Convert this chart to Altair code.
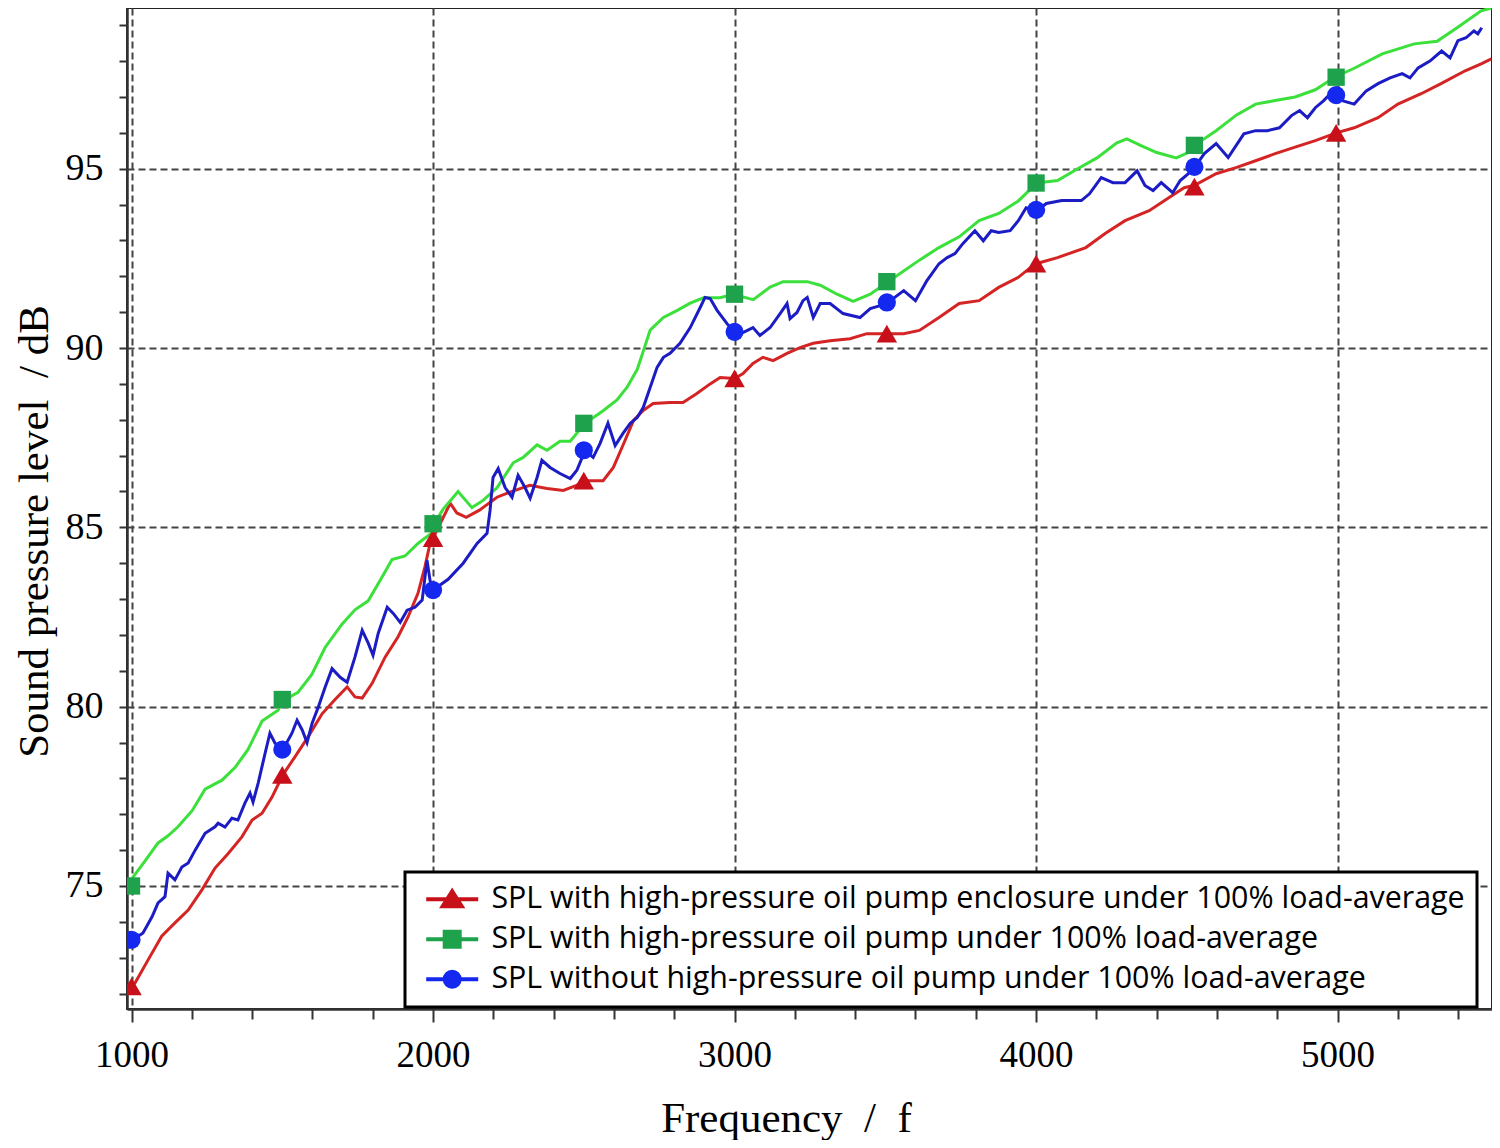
import altair as alt
import pandas as pd

S_RED = "SPL with high-pressure oil pump enclosure under 100% load-average"
S_GREEN = "SPL with high-pressure oil pump under 100% load-average"
S_BLUE = "SPL without high-pressure oil pump under 100% load-average"
series_names = [S_RED, S_GREEN, S_BLUE]
line_keys = ["red", "green", "blue"]

green_f = [1000, 1005, 1045, 1088, 1121, 1154, 1201, 1244, 1300, 1343, 1386, 1433, 1486, 1500,
           1552, 1598, 1642, 1698, 1741, 1785, 1830, 1864, 1907, 1950, 1997, 2000, 2033, 2083,
           2129, 2166, 2212, 2266, 2299, 2345, 2378, 2421, 2455, 2504, 2564, 2610, 2643, 2677,
           2697, 2720, 2764, 2810, 2853, 2897, 2952, 2995, 3062, 3118, 3161, 3241, 3284, 3340,
           3393, 3450, 3509, 3613, 3678, 3745, 3811, 3876, 3941, 4003, 4071, 4138, 4202, 4268,
           4301, 4348, 4400, 4465, 4518, 4525, 4597, 4665, 4728, 4793, 4859, 4926, 4990, 5055,
           5148, 5254, 5330, 5396, 5476, 5510]
green_v = [75.0, 75.25, 75.7, 76.2, 76.4, 76.65, 77.1, 77.7, 77.95, 78.3, 78.8, 79.6, 79.9, 80.15,
           80.4, 80.9, 81.65, 82.3, 82.7, 82.95, 83.6, 84.1, 84.2, 84.55, 84.85, 85.05, 85.5, 86.0,
           85.55, 85.75, 86.1, 86.8, 86.95, 87.3, 87.15, 87.4, 87.4, 87.9, 88.25, 88.55, 88.9, 89.4,
           89.9, 90.5, 90.85, 91.05, 91.25, 91.4, 91.4, 91.5, 91.35, 91.7, 91.85, 91.85, 91.75, 91.5,
           91.3, 91.5, 91.85, 92.45, 92.8, 93.1, 93.55, 93.75, 94.1, 94.6, 94.67, 95.0, 95.3, 95.72,
           95.83, 95.64, 95.45, 95.3, 95.5, 95.65, 96.06, 96.5, 96.8, 96.9, 97.0, 97.2, 97.55, 97.8,
           98.2, 98.48, 98.55, 98.93, 99.4, 99.48]

red_f = [1000, 1012, 1055, 1100, 1144, 1188, 1234, 1277, 1320, 1366, 1400, 1433, 1466, 1502,
         1542, 1585, 1632, 1675, 1715, 1741, 1765, 1798, 1841, 1884, 1917, 1950, 1973, 1990, 2000,
         2057, 2079, 2110, 2154, 2212, 2255, 2321, 2378, 2432, 2476, 2504, 2564, 2598, 2632, 2665,
         2697, 2730, 2786, 2829, 2875, 2919, 2952, 3001, 3028, 3061, 3094, 3128, 3174, 3217, 3261,
         3317, 3383, 3439, 3506, 3561, 3613, 3678, 3745, 3811, 3876, 3941, 3981, 4000, 4071, 4165,
         4229, 4295, 4375, 4440, 4491, 4524, 4597, 4663, 4728, 4793, 4859, 4926, 4996, 5055, 5134,
         5200, 5277, 5343, 5423, 5476, 5510]
red_v = [72.2, 72.3, 72.94, 73.6, 73.97, 74.33, 74.9, 75.5, 75.9, 76.37, 76.84, 77.03, 77.48, 78.1,
         78.6, 79.15, 79.8, 80.2, 80.55, 80.27, 80.24, 80.65, 81.38, 81.95, 82.5, 83.16, 83.9, 84.55, 84.7,
         85.67, 85.4, 85.28, 85.48, 85.84, 85.98, 86.17, 86.08, 86.03, 86.17, 86.3, 86.3, 86.67, 87.33, 87.98,
         88.26, 88.45, 88.48, 88.48, 88.73, 89.0, 89.18, 89.15, 89.29, 89.57, 89.74, 89.65, 89.85, 90.01, 90.13,
         90.2, 90.26, 90.4, 90.4, 90.4, 90.49, 90.85, 91.24, 91.32, 91.69, 91.97, 92.24, 92.35, 92.52, 92.8,
         93.19, 93.55, 93.83, 94.19, 94.47, 94.53, 94.86, 95.03, 95.22, 95.42, 95.6, 95.78, 96.0, 96.14, 96.42,
         96.8, 97.09, 97.37, 97.73, 97.92, 98.06]

blue_f = [1000, 1005, 1038, 1068, 1088, 1111, 1121, 1144, 1167, 1188, 1211, 1244, 1277, 1287, 1310,
          1333, 1353, 1376, 1393, 1403, 1420, 1443, 1459, 1476, 1502, 1532, 1549, 1566, 1582, 1599,
          1619, 1642, 1665, 1692, 1715, 1741, 1765, 1785, 1801, 1818, 1848, 1868, 1891, 1914, 1940,
          1964, 1980, 1990, 2000, 2050, 2100, 2146, 2179, 2189, 2199, 2216, 2239, 2262, 2282, 2305,
          2322, 2345, 2361, 2388, 2421, 2455, 2477, 2504, 2531, 2554, 2580, 2604, 2630, 2654, 2677,
          2697, 2720, 2743, 2764, 2786, 2819, 2853, 2886, 2902, 2919, 2942, 2975, 3001, 3028, 3061,
          3084, 3118, 3151, 3174, 3184, 3207, 3227, 3241, 3261, 3284, 3317, 3360, 3416, 3450, 3483,
          3509, 3561, 3600, 3638, 3678, 3705, 3731, 3757, 3797, 3825, 3851, 3876, 3914, 3941, 3967,
          4003, 4034, 4085, 4150, 4177, 4216, 4255, 4295, 4335, 4361, 4388, 4415, 4453, 4478, 4505,
          4525, 4558, 4597, 4637, 4689, 4728, 4767, 4807, 4847, 4874, 4900, 4926, 4953, 4979, 4993,
          5018, 5055, 5095, 5134, 5174, 5214, 5240, 5267, 5306, 5345, 5373, 5399, 5426, 5452, 5465, 5478]
blue_v = [73.5, 73.5, 73.69, 74.14, 74.53, 74.7, 75.36, 75.17, 75.53, 75.64, 76.0, 76.47, 76.65, 76.75, 76.64,
          76.89, 76.84, 77.31, 77.59, 77.34, 77.87, 78.7, 79.26, 78.98, 78.8, 79.26, 79.62, 79.35, 79.0, 79.54,
          79.98, 80.54, 81.06, 80.82, 80.68, 81.38, 82.13, 81.77, 81.43, 82.04, 82.77, 82.6, 82.35, 82.69, 82.77,
          82.97, 84.08, 83.52, 83.25, 83.55, 84.0, 84.55, 84.83, 85.47, 86.39, 86.64, 86.11, 85.84, 86.45, 86.11,
          85.81, 86.39, 86.87, 86.67, 86.5, 86.36, 86.59, 87.14, 86.95, 87.34, 87.9, 87.28, 87.62, 87.9, 88.06,
          88.34, 88.9, 89.46, 89.74, 89.85, 90.13, 90.57, 91.13, 91.41, 91.38, 91.05, 90.68, 90.43, 90.43, 90.57,
          90.35, 90.57, 90.96, 91.24, 90.82, 90.99, 91.32, 91.41, 90.85, 91.24, 91.24, 90.96, 90.85, 91.1, 91.18,
          91.27, 91.6, 91.32, 91.88, 92.35, 92.52, 92.63, 92.91, 93.27, 92.99, 93.27, 93.22, 93.27, 93.55, 93.91,
          93.83, 94.03, 94.11, 94.11, 94.3, 94.75, 94.61, 94.61, 94.94, 94.53, 94.39, 94.61, 94.33, 94.67, 94.86,
          95.03, 95.42, 95.7, 95.31, 95.97, 96.06, 96.06, 96.14, 96.48, 96.62, 96.42, 96.7, 96.89, 97.12, 97.03,
          96.89, 96.8, 97.17, 97.37, 97.53, 97.65, 97.53, 97.81, 98.0, 98.28, 98.09, 98.57, 98.65, 98.84, 98.76, 98.93]

marker_f = [1000, 1500, 2000, 2500, 3000, 3505, 4000, 4525, 4995]
red_marker = [72.2, 78.1, 84.7, 86.3, 89.15, 90.4, 92.35, 94.5, 96.0]
green_marker = [75.0, 80.2, 85.1, 87.9, 91.5, 91.85, 94.6, 95.65, 97.55]
blue_marker = [73.5, 78.8, 83.25, 87.15, 90.45, 91.27, 93.85, 95.05, 97.05]

line_colors = ["#d42424", "#3be03b", "#1c1cc4"]
marker_colors = ["#c8101a", "#1ea34c", "#1428f0"]
marker_shapes = ["triangle-up", "square", "circle"]
marker_sizes = [420, 300, 330]
legend_paths = [
    "M-2.6,0H2.6M0,-0.8L0.95,0.7L-0.95,0.7Z",
    "M-2.6,0H2.6M-0.75,-0.75H0.75V0.75H-0.75Z",
    "M-2.6,0H2.6M0.75,0A0.75,0.75,0,1,1,-0.75,0A0.75,0.75,0,1,1,0.75,0Z",
]

x_ticks = list(range(1000, 5501, 200))
y_ticks = list(range(72, 100))

rows = []
for name, key, fs, vs in [(S_RED, "red", red_f, red_v), (S_GREEN, "green", green_f, green_v),
                          (S_BLUE, "blue", blue_f, blue_v)]:
    for f, v in zip(fs, vs):
        rows.append({"series": name, "key": key, "f": f, "v": v})
lines_df = pd.DataFrame(rows)

mrows = []
for name, vs in [(S_RED, red_marker), (S_GREEN, green_marker), (S_BLUE, blue_marker)]:
    for f, v in zip(marker_f, vs):
        mrows.append({"series": name, "f": f, "v": v})
markers_df = pd.DataFrame(mrows)

x_enc = alt.X(
    "f:Q",
    scale=alt.Scale(domain=[985, 5512], nice=False, zero=False),
    axis=alt.Axis(
        values=x_ticks,
        labelExpr="datum.value % 1000 === 0 ? '' + datum.value : ''",
        title="Frequency\u00a0\u00a0/\u00a0\u00a0f",
        titleFont="Liberation Serif", titleFontSize=43, titleFontWeight="normal", titleColor="black",
        titleX=659, titleY=109, titleBaseline="middle",
        labelFont="Liberation Serif", labelFontSize=37, labelColor="black",
        labelPadding=15, labelFlush=False, labelOverlap=False,
        tickSize={"condition": {"test": "datum.value % 1000 === 0", "value": 13}, "value": 10},
        tickColor="#333", tickWidth=2,
        domainColor="#333", domainWidth=2.5,
        grid=True, gridColor="#444", gridWidth=2, gridDash=[7, 4],
        gridOpacity={"condition": {"test": "datum.value % 1000 === 0", "value": 1}, "value": 0},
    ),
)
y_enc = alt.Y(
    "v:Q",
    scale=alt.Scale(domain=[71.57, 99.48], nice=False, zero=False),
    axis=alt.Axis(
        values=y_ticks,
        labelExpr="datum.value % 5 === 0 ? '' + datum.value : ''",
        title="Sound pressure level\u00a0\u00a0/\u00a0dB",
        titleFont="Liberation Serif", titleFontSize=43, titleFontWeight="normal", titleColor="black",
        titleX=-80, titleY=523, titleBaseline="alphabetic",
        labelFont="Liberation Serif", labelFontSize=38, labelColor="black",
        labelPadding=16, labelOverlap=False,
        tickSize=8, tickColor="#333", tickWidth=2,
        domainColor="#333", domainWidth=2.5,
        grid=True, gridColor="#444", gridWidth=2, gridDash=[7, 4],
        gridOpacity={"condition": {"test": "datum.value % 5 === 0", "value": 1}, "value": 0},
    ),
)

leg = alt.Legend(
    orient="none", legendX=278, legendY=864, direction="vertical", title=None,
    labelFont="Open Sans", labelFontSize=30.4, labelColor="black", labelLimit=1300,
    symbolSize=400, symbolStrokeWidth=4, symbolOffset=20, labelOffset=24,
    rowPadding=8, padding=12, strokeColor="black", fillColor="white", cornerRadius=0,
)
fill_scale = alt.Scale(domain=series_names, range=marker_colors)

lines = alt.Chart(lines_df).mark_line(strokeWidth=3, clip=True).encode(
    x=x_enc, y=y_enc,
    color=alt.Color("key:N", scale=alt.Scale(domain=line_keys, range=line_colors), legend=None),
)

marker_layers = []
for name, shp, sz in zip(series_names, marker_shapes, marker_sizes):
    marker_layers.append(
        alt.Chart(markers_df).transform_filter(alt.datum.series == name)
        .mark_point(shape=shp, filled=True, size=sz, opacity=1, clip=True)
        .encode(x=x_enc, y=y_enc, fill=alt.Fill("series:N", scale=fill_scale, legend=leg))
    )

legend_layer = alt.Chart(markers_df).transform_filter("datum.f < 0").mark_point(
    filled=True, strokeWidth=4, opacity=1
).encode(
    x=x_enc, y=y_enc,
    fill=alt.Fill("series:N", scale=fill_scale, legend=leg),
    stroke=alt.Stroke("series:N", scale=alt.Scale(domain=series_names, range=marker_colors), legend=leg),
    shape=alt.Shape("series:N", scale=alt.Scale(domain=series_names, range=legend_paths), legend=leg),
)

chart = alt.layer(legend_layer, lines, *marker_layers).properties(
    width=1365, height=1001,
    autosize=alt.AutoSizeParams(type="none"),
    padding={"left": 119, "top": 0, "right": 0, "bottom": 131},
).configure_view(stroke="#222", strokeWidth=2).configure_legend(strokeWidth=3)

chart.save("out.html", embed_options={"renderer": "svg", "actions": False})
